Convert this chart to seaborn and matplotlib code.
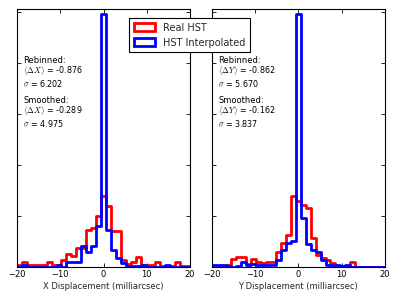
import numpy as np
import pandas as pd
import matplotlib
matplotlib.use("Agg")
import matplotlib.pyplot as plt
from matplotlib.patches import Patch
from matplotlib.ticker import MultipleLocator
import seaborn as sns

sns.set_theme(style="ticks")
plt.rcParams["font.family"] = ["DejaVu Sans"]
plt.rcParams["mathtext.fontset"] = "cm"

RED = "#ff0000"
BLUE = "#0000ff"

# 35 bins over -20..20 milliarcsec, centre bin sits on 0
N_BINS = 35
BIN_RANGE = (-20, 20)
bin_edges = np.linspace(BIN_RANGE[0], BIN_RANGE[1], N_BINS + 1)
bin_centers = 0.5 * (bin_edges[:-1] + bin_edges[1:])

# normalised histogram heights
x_real = [0.004, 0.0105, 0.004, 0.004, 0.004, 0.004, 0.0105, 0.004, 0.004, 0.014,
          0.025, 0.022, 0.037, 0.037, 0.072, 0.077, 0.099, 0.139, 0.119, 0.071,
          0.071, 0.013, 0.005, 0.0105, 0.020, 0.004, 0.004, 0.004, 0.0105, 0.002,
          0.002, 0.002, 0.0105, 0.002, 0.002]
x_interp = [0.0, 0.004, 0.0, 0.0, 0.0, 0.0, 0.0, 0.0, 0.004, 0.0,
            0.0105, 0.010, 0.010, 0.041, 0.030, 0.041, 0.080, 0.495, 0.073, 0.033,
            0.017, 0.007, 0.002, 0.002, 0.002, 0.004, 0.0, 0.0, 0.0, 0.0,
            0.004, 0.0, 0.0, 0.0, 0.0]
y_real = [0.0, 0.0, 0.002, 0.004, 0.015, 0.020, 0.020, 0.006, 0.016, 0.010,
          0.007, 0.010, 0.010, 0.030, 0.046, 0.063, 0.139, 0.130, 0.122, 0.115,
          0.056, 0.024, 0.017, 0.014, 0.007, 0.002, 0.002, 0.002, 0.010, 0.0,
          0.0, 0.0, 0.0, 0.0, 0.0]
y_interp = [0.004, 0.004, 0.004, 0.002, 0.0, 0.002, 0.010, 0.004, 0.006, 0.004,
            0.004, 0.004, 0.004, 0.014, 0.033, 0.046, 0.050, 0.495, 0.095, 0.045,
            0.033, 0.030, 0.014, 0.004, 0.004, 0.004, 0.002, 0.004, 0.0, 0.0,
            0.0, 0.0, 0.0, 0.0, 0.0]

axis_names = ["X", "Y"]
rebinned_mean = [-0.876, -0.862]
rebinned_sigma = [6.202, 5.670]
smoothed_mean = [-0.289, -0.162]
smoothed_sigma = [4.975, 3.837]

fig = plt.figure(figsize=(3.99, 2.99), dpi=100, facecolor="white")
ax1 = fig.add_axes([17 / 399, 32 / 299, 173 / 399, 258 / 299])
ax2 = fig.add_axes([211.7 / 399, 32 / 299, 173.2 / 399, 258 / 299])

panels = [(ax1, x_real, x_interp), (ax2, y_real, y_interp)]

for i, (ax, real, interp) in enumerate(panels):
    for heights, col in [(real, RED), (interp, BLUE)]:
        df = pd.DataFrame({"disp": bin_centers, "h": heights})
        sns.histplot(data=df, x="disp", weights="h", binwidth=(BIN_RANGE[1] - BIN_RANGE[0]) / N_BINS,
                     binrange=BIN_RANGE, element="step", fill=False, color=col,
                     linewidth=2, ax=ax)
    ax.set_xlim(-20, 20)
    ax.set_ylim(0, 0.505)
    ax.xaxis.set_major_locator(MultipleLocator(10))
    ax.yaxis.set_major_locator(MultipleLocator(0.1))
    ax.tick_params(direction="in", top=True, right=True, length=3, width=0.6,
                   labelsize=6, labelleft=False, pad=2, colors="black")
    for spine in ax.spines.values():
        spine.set_visible(True)
        spine.set_color("black")
        spine.set_linewidth(0.8)
    ax.set_ylabel("")
    ax.set_xlabel(f"{axis_names[i]} Displacement (milliarcsec)", fontsize=6, labelpad=2)

    name = axis_names[i]
    lines = [
        (0.802, "Rebinned:", 6),
        (0.761, rf"$\langle\Delta {name}\rangle$ = {rebinned_mean[i]:.3f}", 5.8),
        (0.710, rf"$\sigma$ = {rebinned_sigma[i]:.3f}", 5.8),
        (0.647, "Smoothed:", 6),
        (0.606, rf"$\langle\Delta {name}\rangle$ = {smoothed_mean[i]:.3f}", 5.8),
        (0.555, rf"$\sigma$ = {smoothed_sigma[i]:.3f}", 5.8),
    ]
    for yy, txt, fs in lines:
        ax.text(0.037, yy, txt, transform=ax.transAxes, fontsize=fs,
                va="center", ha="left", color="black")

handles = [Patch(facecolor="white", edgecolor=RED, linewidth=2),
           Patch(facecolor="white", edgecolor=BLUE, linewidth=2)]
leg = fig.legend(handles, ["Real HST", "HST Interpolated"], loc="upper center",
                 bbox_to_anchor=(0.475, 0.955), fontsize=7, fancybox=False,
                 framealpha=1, edgecolor="black", borderpad=0.45,
                 handlelength=2.2, handleheight=0.9, handletextpad=0.8,
                 labelspacing=0.5)
leg.get_frame().set_linewidth(0.8)

fig.savefig("out.png", dpi=100, facecolor="white")
